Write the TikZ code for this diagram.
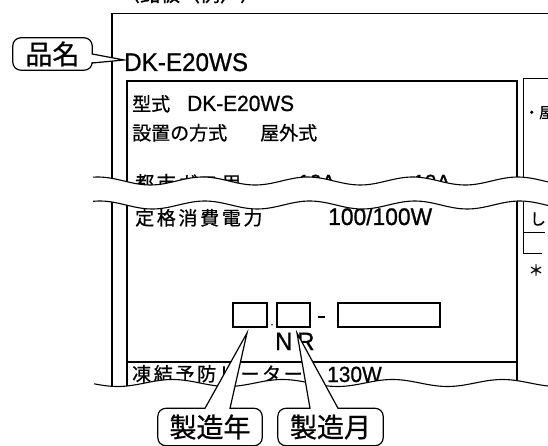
\documentclass[tikz,border=0pt]{standalone}
\usepackage{fontspec}
\usetikzlibrary{calc}
\newfontfamily\jpfont[FakeBold=0.8]{Noto Sans CJK JP}
\newfontfamily\latfont[FakeStretch=0.95,FakeBold=0.8]{Liberation Sans}
\newcommand{\px}[1]{\fontsize{#1}{#1}\selectfont}

\begin{document}
\begin{tikzpicture}[x=1pt,y=-1pt,
    outerline/.style={line width=1.5pt},
    plateline/.style={line width=2pt},
    thinline/.style={line width=1pt},
    jp/.style={inner sep=0pt,anchor=base west,font=\jpfont\px{#1}},
    jpwide/.style={inner sep=0pt,anchor=base west,
      font=\jpfont\px{19}\addfontfeature{LetterSpace=14}},
    lat/.style={inner sep=0pt,anchor=base west,font=\latfont\px{#1}},
    digit/.style={draw,line width=1.5pt,inner sep=0pt,minimum height=24pt},
    tag/.style={inner sep=0pt,minimum height=37pt},
    tagtext/.style={inner sep=0pt,font=\jpfont\px{#1}},
    callout/.style={draw,fill=white,line width=1.2pt},
    wave/.style={line width=1.1pt}
  ]
  \fill[white] (0,0) rectangle (548,446);
  \useasboundingbox (0,0) rectangle (548,446);

  \node[jp=20,anchor=base] (title) at (190,1.5) {〈銘板（例）〉};

  % frames
  \draw[outerline] (548,13.5) -- (112,13.5) -- (112,400);
  \draw[plateline] (127,400) -- (127,81) -- (517,81) -- (517,400);
  \draw[plateline] (127,362) -- (517,362);
  \draw[thinline] (548,79) -- (523,79) -- (523,253) -- (542,253);
  \draw[thinline] (523,232) -- (545,232);

  \node[lat=25.5] (model) at (124,71) {DK-E20WS};

  \node[jp=19] (type)  at (132,111) {型式};
  \node[lat=22] (typeno) at (187,111) {DK-E20WS};
  \node[jp=19] (place) at (132,140) {設置の方式};
  \node[jp=19] (outdoor) at (260,140) {屋外式};
  \node[jpwide] (gas)  at (135,190) {都市ガス用};
  \node[lat=22] (gasA) at (298,190) {13A};
  \node[lat=22] (gasB) at (413,190) {13A};
  \node[jpwide] (power) at (135,225) {定格消費電力};
  \node[lat=24] (watt) at (328,225) {100/100W};
  \node[jpwide] (heater) at (132,381) {凍結予防ヒーター};
  \node[lat=22] (heatw) at (327,382) {130W};

  \node[jp=15] (side) at (524,118) {・屋};
  \node[jp=16,anchor=center] (hook) at (538,219) {し};
  \node[jp=15,anchor=center] (star) at (536,270) {＊};

  % serial number
  \node[digit,minimum width=34pt] (yearbox)  at (250,315) {};
  \node[digit,minimum width=33pt] (monthbox) at (293.5,315) {};
  \node[digit,minimum width=102pt] (serial) at (389,315) {};
  \fill ($(yearbox.south east)!0.5!(monthbox.south west)+(0,-3)$) circle (0.9pt);
  \draw[line width=1.5pt] ($(monthbox.east)+(7,2)$) -- ($(serial.west)+(-12,2)$);
  \node[lat=25] (nr) at (275,350) {N\kern5pt R};

  % break
  \fill[white] plot[domain=93:548,samples=120] (\x,{181+4*sin((\x-229)*3.4286)})
    -- plot[domain=548:93,samples=120] (\x,{205+4*sin((\x-231)*3.4286)}) -- cycle;
  \draw[wave] plot[domain=93:548,samples=120] (\x,{181+4*sin((\x-229)*3.4286)});
  \draw[wave] plot[domain=93:548,samples=120] (\x,{205+4*sin((\x-231)*3.4286)});
  \fill[white] plot[domain=94:548,samples=120] (\x,{383+3.5*sin((\x-200)*3.2727)})
    -- (548,446) -- (94,446) -- cycle;
  \draw[wave] plot[domain=94:548,samples=120] (\x,{383+3.5*sin((\x-200)*3.2727)});

  % callouts
  \node[inner sep=0pt,minimum width=79pt,minimum height=32pt] (name) at (52.5,54) {};
  \coordinate (nametip) at (124,60);
  \filldraw[callout] (nametip) -- ($(name.east)+(0,9)$) [rounded corners=8pt]
    -- (name.south east) -- (name.south west) -- (name.north west)
    -- (name.north east) [sharp corners] -- (name.east) -- cycle;
  \node[tagtext=27] (namelbl) at (name.center) {品名};

  \node[tag,minimum width=104pt] (year) at (210,427) {};
  \coordinate (yeartip) at (247,333);
  \filldraw[callout] (yeartip) -- (year.north west -| 230,0) [rounded corners=8pt]
    -- (year.north east) -- (year.south east) -- (year.south west)
    -- (year.north west) [sharp corners] -- (year.north west -| 205,0) -- cycle;
  \node[tagtext=27] (yearlbl) at (year.center) {製造年};

  \node[tag,minimum width=105pt] (month) at (330.5,427) {};
  \coordinate (monthtip) at (297,333);
  \filldraw[callout] (monthtip) -- (month.north west -| 338,0) [rounded corners=8pt]
    -- (month.north east) -- (month.south east) -- (month.south west)
    -- (month.north west) [sharp corners] -- (month.north west -| 310,0) -- cycle;
  \node[tagtext=27] (monthlbl) at (month.center) {製造月};

\end{tikzpicture}
\end{document}
